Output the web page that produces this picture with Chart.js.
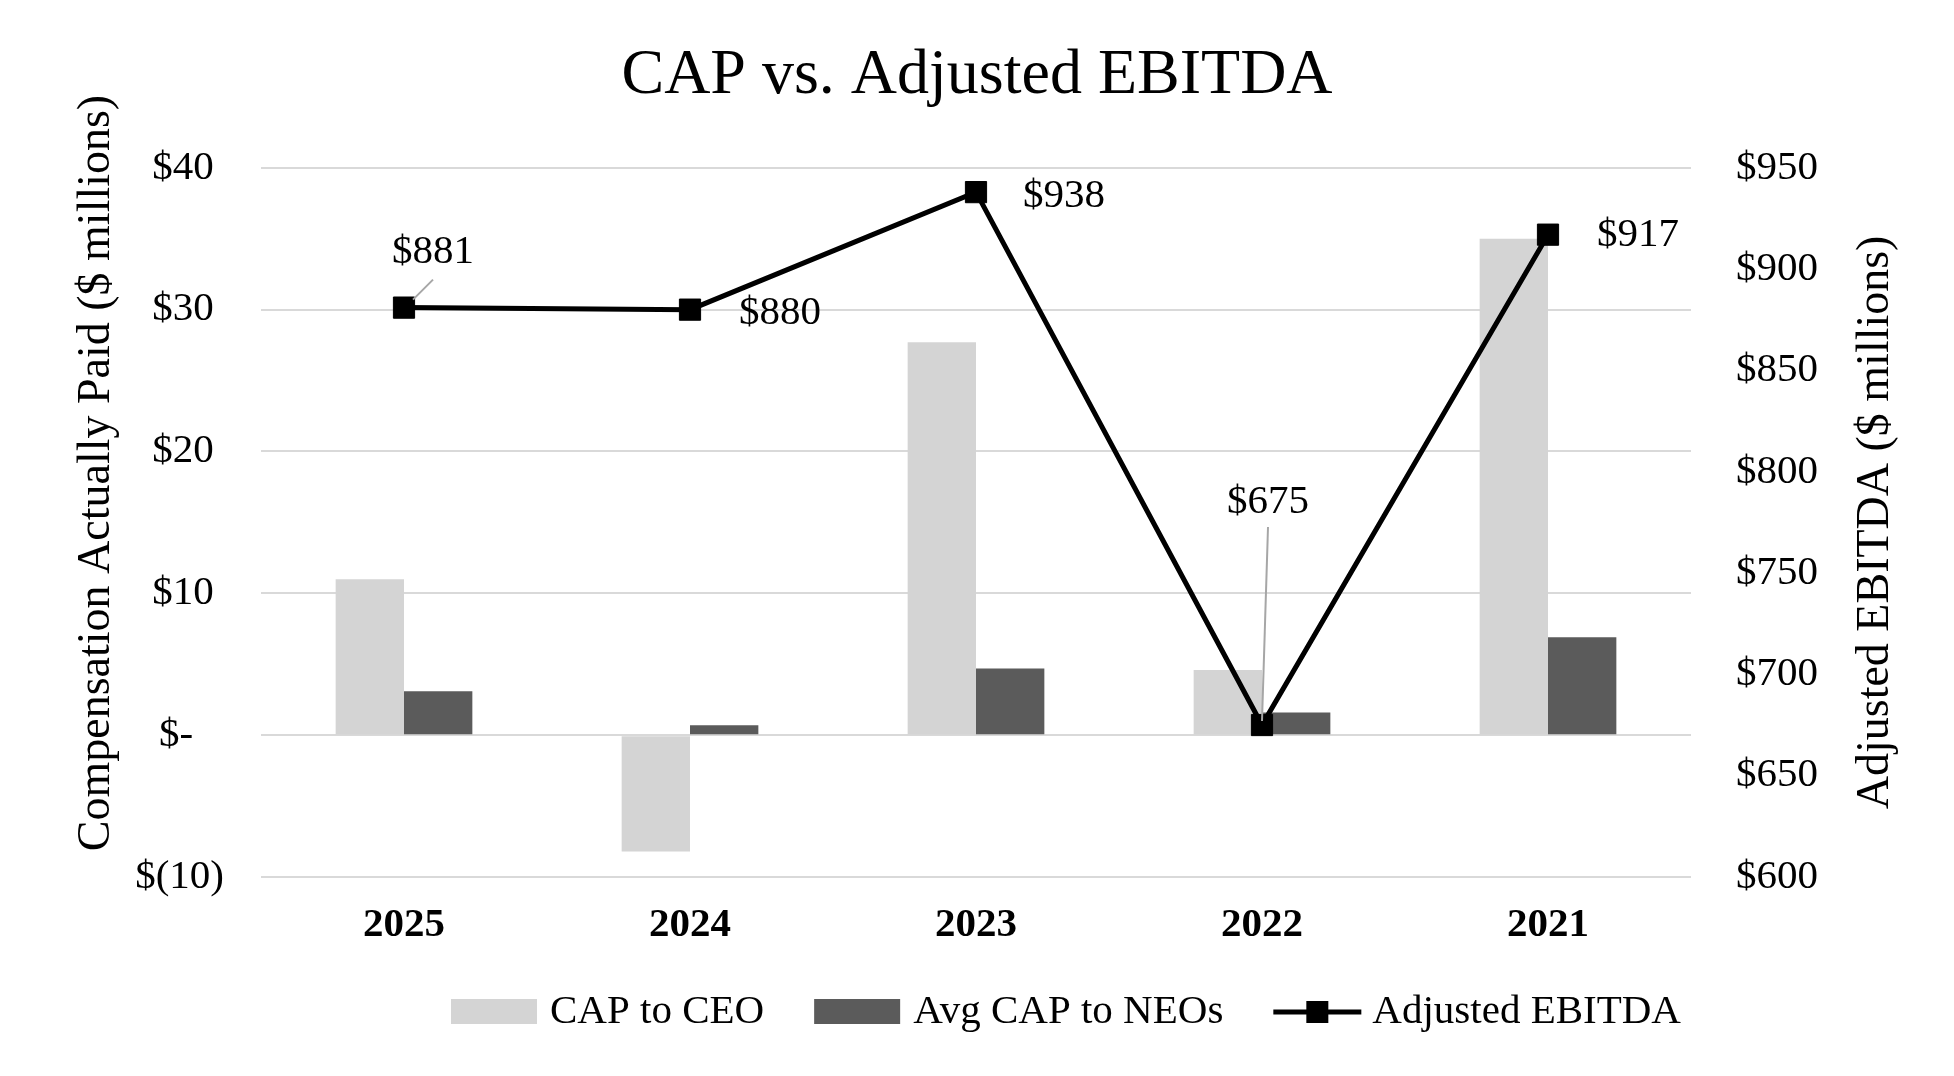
<!DOCTYPE html>
<html>
<head>
<meta charset="utf-8">
<script src="https://cdn.jsdelivr.net/npm/chart.js@4.4.1/dist/chart.umd.min.js"></script>
<style>
  html, body { margin: 0; padding: 0; background: #fff; }
  #wrap { width: 1954px; height: 1076px; }
</style>
</head>
<body>
<div id="wrap"><canvas id="capChart"></canvas></div>
<script>
const years = ['2025', '2024', '2023', '2022', '2021'];
const capToCeo = [11.0, -8.2, 27.7, 4.6, 35.0];
const avgCapToNeos = [3.1, 0.7, 4.7, 1.6, 6.9];
const adjEbitda = [881, 880, 938, 675, 917];

const leftTickValues = [-10, 0, 10, 20, 30, 40];
const leftTickLabels = ['$(10)', '$-   ', '$10 ', '$20 ', '$30 ', '$40 '];
const rightTickValues = [600, 650, 700, 750, 800, 850, 900, 950];
const rightTickLabels = ['$600', '$650', '$700', '$750', '$800', '$850', '$900', '$950'];

const SERIF = "'Liberation Serif', 'Times New Roman', serif";
const LIGHT = '#d4d4d4';
const DARK = '#5b5b5b';
const GRID = '#d9d9d9';

// where each EBITDA label sits relative to its point (px), plus optional leader line
const labelOffsets = [
  { dx: 29, dy: -55, leader: [9, -8, 29, -28] },
  { dx: 90, dy: 4 },
  { dx: 88, dy: 4 },
  { dx: 6, dy: -223, leader: [6, -198, 0, -4] },
  { dx: 90, dy: 1 },
];

const overlay = {
  id: 'overlay',
  afterDatasetsDraw(chart) {
    const ctx = chart.ctx;
    const meta = chart.getDatasetMeta(2);
    ctx.save();
    meta.data.forEach((pt, i) => {
      const o = labelOffsets[i];
      if (o.leader) {
        ctx.strokeStyle = '#a6a6a6';
        ctx.lineWidth = 2;
        ctx.beginPath();
        ctx.moveTo(pt.x + o.leader[2], pt.y + o.leader[3]);
        ctx.lineTo(pt.x + o.leader[0], pt.y + o.leader[1]);
        ctx.stroke();
      }
      ctx.font = `41px ${SERIF}`;
      ctx.fillStyle = '#000';
      ctx.textAlign = 'center';
      ctx.textBaseline = 'middle';
      ctx.fillText('$' + adjEbitda[i], pt.x + o.dx, pt.y + o.dy);
    });
    ctx.restore();
  },
  afterDraw(chart) {
    const ctx = chart.ctx;
    const area = chart.chartArea;
    ctx.save();
    // axis titles (both read bottom to top)
    ctx.font = `46px ${SERIF}`;
    ctx.fillStyle = '#000';
    ctx.textAlign = 'center';
    ctx.textBaseline = 'middle';
    ctx.save();
    ctx.translate(97, 473);
    ctx.rotate(-Math.PI / 2);
    ctx.fillText('Compensation Actually Paid ($ millions)', 0, 0);
    ctx.restore();
    ctx.save();
    ctx.translate(area.right + 185, (area.top + area.bottom) / 2);
    ctx.rotate(-Math.PI / 2);
    ctx.fillText('Adjusted EBITDA ($ millions)', 0, 0);
    ctx.restore();

    // legend
    const y = 1012;
    let x = 451;
    ctx.font = `41px ${SERIF}`;
    ctx.textAlign = 'left';
    chart.data.datasets.forEach((ds) => {
      if (ds.type === 'line') {
        ctx.strokeStyle = ds.borderColor;
        ctx.lineWidth = 5;
        ctx.beginPath();
        ctx.moveTo(x, y);
        ctx.lineTo(x + 88, y);
        ctx.stroke();
        ctx.fillStyle = ds.pointBackgroundColor;
        ctx.fillRect(x + 44 - 11, y - 11, 22, 22);
      } else {
        ctx.fillStyle = ds.backgroundColor;
        ctx.fillRect(x, y - 13, 86, 25);
      }
      x += 86 + 13;
      ctx.fillStyle = '#000';
      ctx.fillText(ds.label, x, y);
      x += ctx.measureText(ds.label).width + 50;
    });
    ctx.restore();
  }
};

new Chart(document.getElementById('capChart'), {
  data: {
    labels: years,
    datasets: [
      {
        type: 'bar',
        label: 'CAP to CEO',
        data: capToCeo,
        backgroundColor: LIGHT,
        yAxisID: 'y',
        order: 1,
        categoryPercentage: 0.478,
        barPercentage: 1.0,
      },
      {
        type: 'bar',
        label: 'Avg CAP to NEOs',
        data: avgCapToNeos,
        backgroundColor: DARK,
        yAxisID: 'y',
        order: 1,
        categoryPercentage: 0.478,
        barPercentage: 1.0,
      },
      {
        type: 'line',
        label: 'Adjusted EBITDA',
        data: adjEbitda,
        yAxisID: 'y2',
        order: 0,
        borderColor: '#000',
        borderWidth: 5,
        tension: 0,
        pointStyle: 'rect',
        pointRadius: 15,
        pointBackgroundColor: '#000',
        pointBorderColor: '#000',
        pointBorderWidth: 1,
      },
    ],
  },
  options: {
    responsive: true,
    maintainAspectRatio: false,
    animation: false,
    layout: { padding: { bottom: 119 } },
    plugins: {
      legend: { display: false },
      tooltip: { enabled: false },
      title: {
        display: true,
        text: 'CAP vs. Adjusted EBITDA',
        color: '#000',
        font: { family: SERIF, size: 64, weight: 'normal' },
        padding: { top: 38, bottom: 53 },
      },
    },
    scales: {
      x: {
        grid: { display: false, drawTicks: false },
        border: { display: false },
        ticks: {
          color: '#000',
          padding: 24,
          font: { family: SERIF, size: 41, weight: 'bold' },
        },
        afterFit: (s) => { s.height = 80; },
      },
      y: {
        position: 'left',
        min: -10,
        max: 40,
        grid: { color: GRID, lineWidth: 2, drawTicks: false },
        border: { display: false },
        ticks: {
          stepSize: 10,
          color: '#000',
          padding: 37,
          font: { family: SERIF, size: 41 },
          callback: (v) => leftTickLabels[leftTickValues.indexOf(v)],
        },
        afterFit: (s) => { s.width = 261; },
      },
      y2: {
        position: 'right',
        min: 600,
        max: 950,
        grid: { display: false, drawTicks: false },
        border: { display: false },
        ticks: {
          stepSize: 50,
          color: '#000',
          padding: 45,
          font: { family: SERIF, size: 41 },
          callback: (v) => rightTickLabels[rightTickValues.indexOf(v)],
        },
        afterFit: (s) => { s.width = 263; },
      },
    },
  },
  plugins: [overlay],
});
</script>
</body>
</html>
